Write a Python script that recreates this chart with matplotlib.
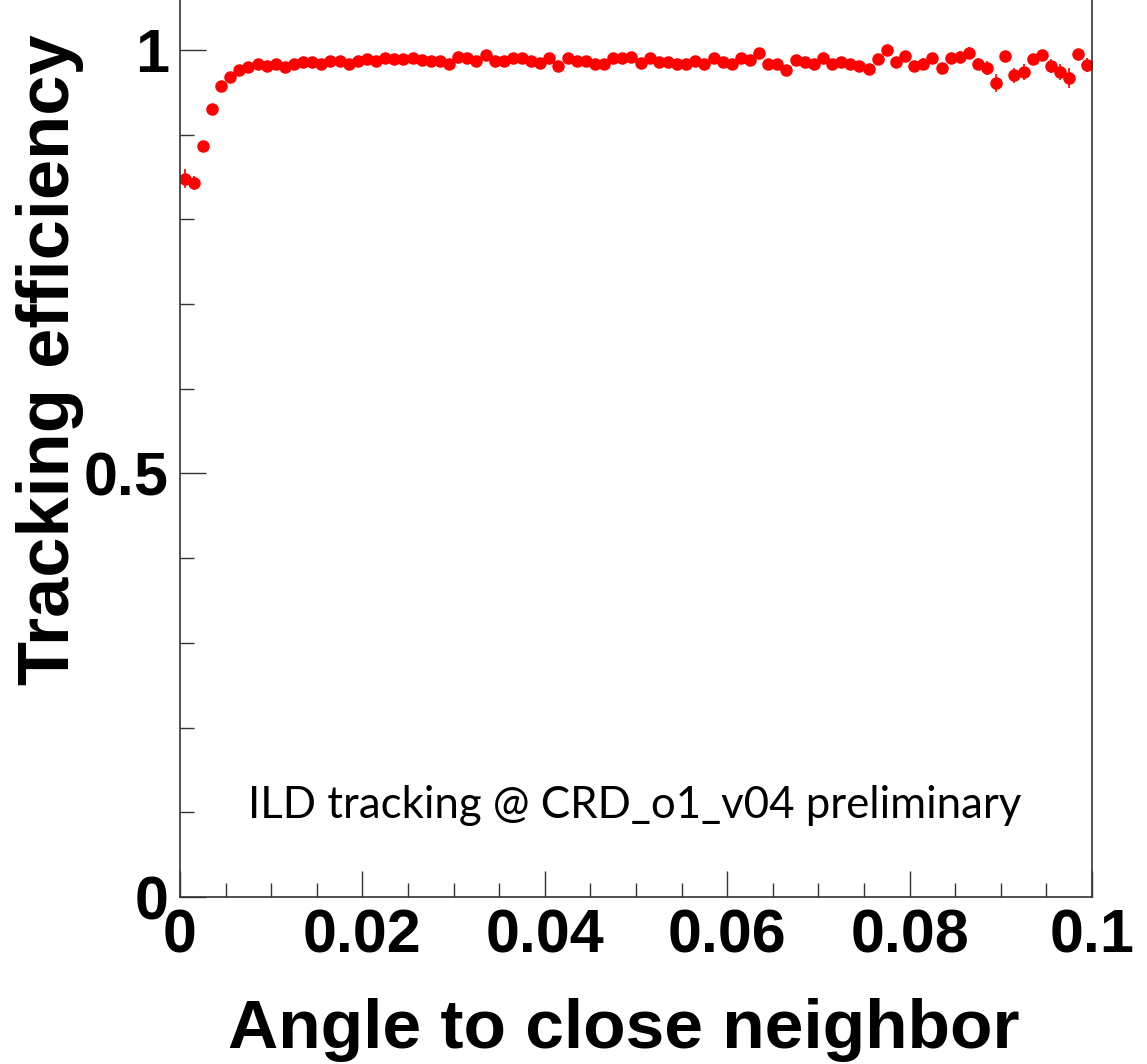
import numpy as np
import matplotlib
matplotlib.use('Agg')
import matplotlib.pyplot as plt
from matplotlib.ticker import MultipleLocator, FixedLocator

# bin edges: 100 bins from 0 to 0.1
bin_lo = 0.0
bin_hi = 0.1
n_bins = 100

eff = [0.848, 0.843, 0.887, 0.930, 0.958, 0.968, 0.976, 0.980, 0.984, 0.981,
       0.983, 0.980, 0.984, 0.986, 0.986, 0.984, 0.987, 0.987, 0.984, 0.987,
       0.989, 0.987, 0.990, 0.989, 0.989, 0.990, 0.988, 0.987, 0.987, 0.984,
       0.992, 0.990, 0.987, 0.994, 0.987, 0.987, 0.990, 0.991, 0.987, 0.985,
       0.990, 0.981, 0.990, 0.987, 0.987, 0.984, 0.984, 0.990, 0.990, 0.992,
       0.985, 0.990, 0.986, 0.986, 0.984, 0.983, 0.987, 0.984, 0.990, 0.986,
       0.983, 0.991, 0.988, 0.997, 0.984, 0.983, 0.976, 0.988, 0.986, 0.983,
       0.991, 0.984, 0.986, 0.984, 0.981, 0.977, 0.989, 1.000, 0.986, 0.993,
       0.981, 0.984, 0.991, 0.979, 0.991, 0.992, 0.997, 0.984, 0.979, 0.961,
       0.993, 0.970, 0.974, 0.989, 0.994, 0.981, 0.974, 0.967, 0.995, 0.982]

eff_err = [0.011, 0.008, 0.006, 0.005, 0.004, 0.004, 0.004, 0.003, 0.003, 0.003,
           0.003, 0.003, 0.003, 0.003, 0.003, 0.003, 0.003, 0.003, 0.003, 0.003,
           0.003, 0.003, 0.003, 0.003, 0.003, 0.003, 0.003, 0.003, 0.003, 0.003,
           0.003, 0.003, 0.003, 0.003, 0.003, 0.003, 0.003, 0.003, 0.003, 0.003,
           0.004, 0.004, 0.004, 0.004, 0.004, 0.004, 0.004, 0.004, 0.004, 0.004,
           0.004, 0.004, 0.004, 0.004, 0.004, 0.004, 0.004, 0.004, 0.004, 0.004,
           0.005, 0.005, 0.005, 0.005, 0.005, 0.005, 0.005, 0.005, 0.005, 0.005,
           0.005, 0.005, 0.005, 0.005, 0.005, 0.006, 0.006, 0.006, 0.006, 0.006,
           0.006, 0.006, 0.006, 0.006, 0.006, 0.007, 0.006, 0.006, 0.008, 0.011,
           0.006, 0.009, 0.009, 0.006, 0.006, 0.008, 0.009, 0.012, 0.006, 0.008]

x_ticks = [0, 0.02, 0.04, 0.06, 0.08, 0.1]
x_tick_labels = ['0', '0.02', '0.04', '0.06', '0.08', '0.1']
y_ticks = [0, 0.5, 1]
y_tick_labels = ['0', '0.5', '1']

edges = np.linspace(bin_lo, bin_hi, n_bins + 1)
centers = 0.5 * (edges[:-1] + edges[1:])
half_w = 0.5 * (edges[1] - edges[0])

W, H = 1147, 1064
fig = plt.figure(figsize=(W / 100, H / 100), dpi=100)
# frame top sits at the very top edge of the picture
ax = fig.add_axes([180 / W, 1 - 897 / H, (1092 - 180) / W, 897 / H])

ax.errorbar(centers, eff, yerr=eff_err, xerr=half_w, fmt='o', color='#ff0000',
            ms=8, elinewidth=1.2, capsize=0, mec='#ff0000')

ax.set_xlim(0, 0.1)
ax.set_ylim(0, 897 / 847)

ax.xaxis.set_major_locator(FixedLocator(x_ticks))
ax.set_xticklabels(x_tick_labels)
ax.xaxis.set_minor_locator(MultipleLocator(0.005))
ax.yaxis.set_major_locator(FixedLocator(y_ticks))
ax.set_yticklabels(y_tick_labels)
ax.yaxis.set_minor_locator(MultipleLocator(0.1))

bold = dict(family='Liberation Sans', weight='bold')
for lab in ax.get_xticklabels() + ax.get_yticklabels():
    lab.set_fontfamily('Liberation Sans')
    lab.set_fontweight('bold')
    lab.set_fontsize(44)

ax.tick_params(which='major', direction='in', length=19, width=1, color='#333333', pad=8)
ax.tick_params(which='minor', direction='in', length=10, width=1, color='#333333')
ax.tick_params(top=False, right=False, which='both')
for s in ax.spines.values():
    s.set_color('#333333')
    s.set_linewidth(1.2)
ax.spines['top'].set_visible(False)

fig.text(624 / W, 1 - 1030 / H, 'Angle to close neighbor', ha='center', va='center',
         fontsize=50, **bold)
fig.text(50 / W, 1 - 360 / H, 'Tracking efficiency', ha='center', va='center',
         rotation=90, fontsize=52, **bold)

ax.text(0.0499, 0.1086, 'ILD tracking @ CRD_o1_v04 preliminary', ha='center', va='center',
        fontsize=31.5, family='Lato')

fig.savefig('out.png', dpi=100)
